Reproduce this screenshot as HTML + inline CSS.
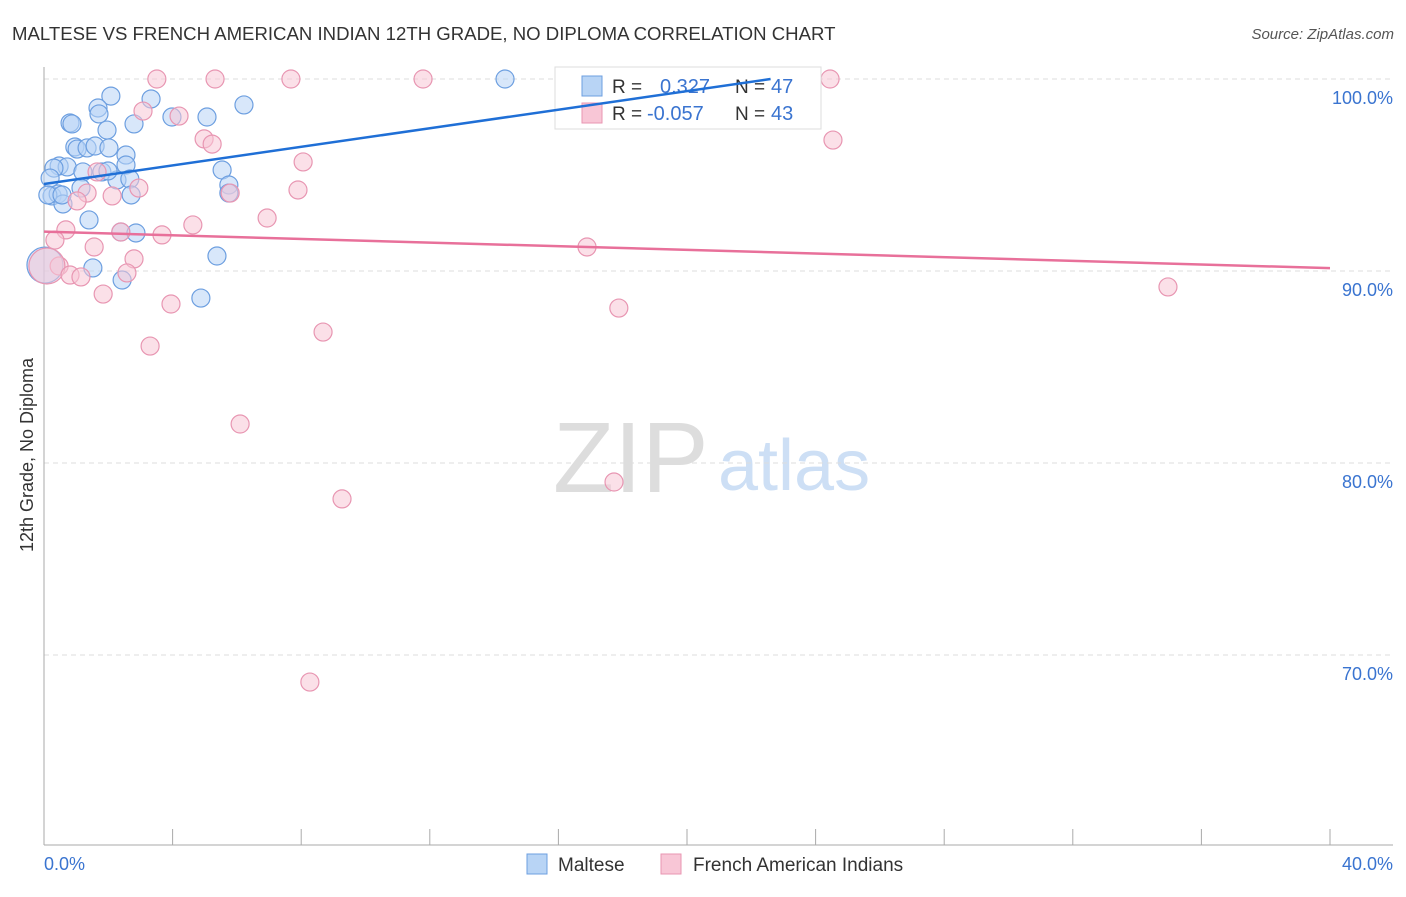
<!DOCTYPE html>
<html><head><meta charset="utf-8"><style>
body{margin:0;background:#fff;font-family:"Liberation Sans",sans-serif}
svg text{font-family:"Liberation Sans",sans-serif}
</style></head><body>
<svg id="c" width="1406" height="892" xmlns="http://www.w3.org/2000/svg">
<text x="12" y="40" font-size="18.6" fill="#333">MALTESE VS FRENCH AMERICAN INDIAN 12TH GRADE, NO DIPLOMA CORRELATION CHART</text>
<text x="1394" y="39" font-size="15" fill="#555" font-style="italic" text-anchor="end">Source: ZipAtlas.com</text>
<text x="33" y="455" font-size="18" fill="#333" text-anchor="middle" transform="rotate(-90 33 455)">12th Grade, No Diploma</text>
<text x="553" y="492" font-size="100" fill="#ddd" font-family="Liberation Serif">ZIP</text>
<text x="718" y="490" font-size="72" fill="#cddff5">atlas</text>
<g id="grid"></g><g id="pts"></g>
<g>
<rect x="555" y="67" width="266" height="62" fill="#fff" stroke="#ddd"/>
<rect x="582" y="76" width="20" height="20" fill="#b8d4f5" stroke="#6d9fe0"/>
<rect x="582" y="103" width="20" height="20" fill="#f8c6d6" stroke="#e896b2"/>
<text x="612" y="93" font-size="19" fill="#333">R =</text>
<text x="660" y="93" font-size="20" fill="#3a74d0">0.327</text>
<text x="735" y="93" font-size="19" fill="#333">N =</text>
<text x="771" y="93" font-size="20" fill="#3a74d0">47</text>
<text x="612" y="120" font-size="19" fill="#333">R =</text>
<text x="647" y="120" font-size="20" fill="#3a74d0">-0.057</text>
<text x="735" y="120" font-size="19" fill="#333">N =</text>
<text x="771" y="120" font-size="20" fill="#3a74d0">43</text>
</g>
<g id="lines"></g>
<g>
<rect x="527" y="854" width="20" height="20" fill="#b8d4f5" stroke="#6d9fe0"/>
<text x="558" y="871" font-size="19" fill="#333">Maltese</text>
<rect x="661" y="854" width="20" height="20" fill="#f8c6d6" stroke="#e896b2"/>
<text x="693" y="871" font-size="19" fill="#333">French American Indians</text>
</g>
</svg>
<script>
const yTicks=[100,90,80,70];
const yTickLabels=["100.0%","90.0%","80.0%","70.0%"];
const xTicks=[0,4,8,12,16,20,24,28,32,36,40];
const blueX=[2.08,3.33,6.22,1.68,1.71,3.98,5.07,0.81,0.87,2.80,1.96,0.96,1.03,1.34,1.59,2.02,2.55,0.47,0.72,2.55,0.31,1.21,1.80,5.54,2.27,2.67,0.19,1.15,5.75,0.25,0.44,0.59,2.71,5.75,1.40,2.39,2.86,5.38,1.52,2.43,4.88,14.34,22.15,0.03,0.12,0.56,1.99];
const blueY=[99.11,98.96,98.65,98.49,98.18,98.02,98.02,97.71,97.66,97.66,97.34,96.46,96.35,96.41,96.51,96.41,96.04,95.47,95.42,95.52,95.36,95.16,95.16,95.26,94.74,94.79,94.84,94.32,94.48,93.91,94.01,93.49,93.96,94.06,92.66,92.03,91.98,90.78,90.16,89.53,88.59,100,100,90.31,93.96,93.96,95.21];
const pinkX=[3.51,5.32,7.68,11.79,24.45,3.08,4.20,4.98,5.23,8.06,24.54,1.65,2.95,7.90,5.79,1.34,2.12,1.03,4.63,6.94,0.68,2.39,3.67,0.34,1.56,16.89,2.80,0.47,0.09,0.81,1.15,2.58,1.84,3.95,17.88,34.96,8.68,3.30,6.10,9.27,17.73,8.27];
const pinkY=[100,100,100,100,100,98.33,98.07,96.88,96.61,95.68,96.82,95.16,94.32,94.22,94.06,94.06,93.91,93.65,92.40,92.76,92.14,92.03,91.88,91.61,91.25,91.25,90.63,90.26,90.26,89.79,89.69,89.90,88.80,88.28,88.07,89.17,86.82,86.09,82.03,78.13,79.01,68.59];
const blueTrend=[[0,94.53],[22.6,100.0]];
const pinkTrend=[[0,92.05],[40,90.15]];
const X=v=>44+v*1286/40, Y=v=>79+(100-v)*19.2;
const NS="http://www.w3.org/2000/svg";
function mk(t,a,p){const e=document.createElementNS(NS,t);for(const k in a)e.setAttribute(k,a[k]);p.appendChild(e);return e;}
const grid=document.getElementById('grid');
yTicks.forEach((t,i)=>{
 const l=mk('line',{x1:44,x2:1393,y1:Y(t),y2:Y(t),stroke:'#ddd','stroke-dasharray':'5,4'},grid);
 
 
 const tx=mk('text',{x:1393,y:Y(t)+25,'font-size':18,fill:'#3a74d0','text-anchor':'end'},grid);
 tx.textContent=yTickLabels[i];
 
 
});
const ax=mk('line',{x1:44,x2:44,y1:67,y2:845,stroke:'#aaa'},grid);


const bx=mk('line',{x1:44,x2:1393,y1:845,y2:845,stroke:'#aaa'},grid);


xTicks.forEach(t=>{
 const l=mk('line',{x1:X(t),x2:X(t),y1:829,y2:845,stroke:'#aaa'},grid);
 
 
});
const xl=mk('text',{x:44,y:870,'font-size':18,fill:'#3a74d0'},grid);xl.textContent='0.0%';


const xr=mk('text',{x:1393,y:870,'font-size':18,fill:'#3a74d0','text-anchor':'end'},grid);xr.textContent='40.0%';


const pts=document.getElementById('pts');
function dots(xs,ys,f,s,n){xs.forEach((x,i)=>{const big=(x<0.1&&Math.abs(ys[i]-90.3)<0.1);
 const c=mk('circle',{cx:X(x),cy:Y(ys[i]),r:big?18:9,fill:f,'fill-opacity':0.55,stroke:s,'stroke-width':1.2},pts);
 
 });}
dots(blueX,blueY,'#b8d4f5','#6d9fe0','maltese-point');
dots(pinkX,pinkY,'#f8c6d6','#e896b2','french-american-indian-point');
const lines=document.getElementById('lines');
const bl=mk('line',{x1:X(blueTrend[0][0]),y1:Y(blueTrend[0][1]),x2:X(blueTrend[1][0]),y2:Y(blueTrend[1][1]),stroke:'#1f6fd6','stroke-width':2.5},lines);


const pl=mk('line',{x1:X(pinkTrend[0][0]),y1:Y(pinkTrend[0][1]),x2:X(pinkTrend[1][0]),y2:Y(pinkTrend[1][1]),stroke:'#e8709a','stroke-width':2.5},lines);


</script>
</body></html>
